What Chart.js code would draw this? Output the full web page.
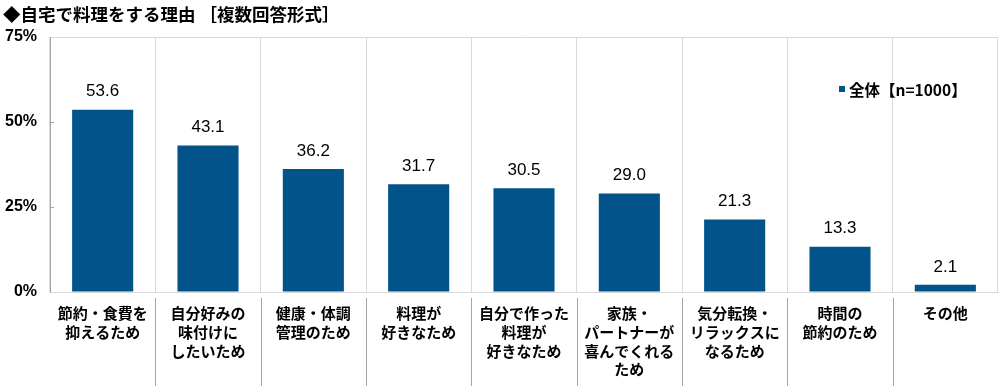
<!DOCTYPE html>
<html lang="ja">
<head>
<meta charset="utf-8">
<script src="https://cdn.jsdelivr.net/npm/chart.js@4"></script>
<style>
    html, body { margin: 0; padding: 0; background: #fff; }
    #wrap { position: relative; width: 1000px; height: 386px; }
    #title {
        position: absolute; left: 3px; top: 1px;
        font: bold 17.5px "Noto Sans CJK JP", sans-serif; color: #000;
        white-space: nowrap;
    }
    #legend {
        position: absolute; left: 839px; top: 78px;
        font: bold 15.5px "Noto Sans CJK JP", sans-serif; color: #000;
        white-space: nowrap;
    }
    #legend span.box {
        display: inline-block; width: 6px; height: 6px; background: #02538A;
        margin-right: 4px; vertical-align: 4px;
    }
</style>
</head>
<body>
<div id="wrap">
    <canvas id="reasonChart" width="1000" height="386"></canvas>
    <div id="title">◆自宅で料理をする理由 ［複数回答形式］</div>
    <div id="legend"><span class="box"></span>全体【n=1000】</div>
</div>
<script>
// Data
const categories = [
    ['節約・食費を', '抑えるため'],
    ['自分好みの', '味付けに', 'したいため'],
    ['健康・体調', '管理のため'],
    ['料理が', '好きなため'],
    ['自分で作った', '料理が', '好きなため'],
    ['家族・', 'パートナーが', '喜んでくれる', 'ため'],
    ['気分転換・', 'リラックスに', 'なるため'],
    ['時間の', '節約のため'],
    ['その他']
];
const totalValues = [53.6, 43.1, 36.2, 31.7, 30.5, 29.0, 21.3, 13.3, 2.1];
const yTicks = [0, 25, 50, 75];

const barBlue = '#02538A';
const lightGrid = '#d9d9d9';

// value labels above bars + separators under the axis + inner y ticks
const extras = {
    id: 'extras',
    afterDatasetsDraw(chart) {
        const ctx = chart.ctx;
        const xs = chart.scales.x;
        const ys = chart.scales.y;
        const area = chart.chartArea;
        ctx.save();

        // value labels
        const meta = chart.getDatasetMeta(0);
        ctx.fillStyle = '#000';
        ctx.font = '17px "Liberation Sans", Arial, sans-serif';
        ctx.textAlign = 'center';
        ctx.textBaseline = 'middle';
        meta.data.forEach(function(bar, i) {
            ctx.fillText(totalValues[i].toFixed(1), bar.x, bar.y - 18);
        });

        // category separators below the axis
        ctx.strokeStyle = '#a6a6a6';
        ctx.lineWidth = 1;
        for (let i = 1; i < categories.length; i++) {
            const x = Math.round((xs.getPixelForValue(i - 1) + xs.getPixelForValue(i)) / 2) + 0.5;
            ctx.beginPath();
            ctx.moveTo(x, area.bottom + 6);
            ctx.lineTo(x, chart.height);
            ctx.stroke();
        }

        // small ticks on the inside of the y axis
        yTicks.forEach(function(v) {
            if (v === 0 || v === 75) return;
            const y = Math.round(ys.getPixelForValue(v)) + 0.5;
            ctx.beginPath();
            ctx.moveTo(area.left, y);
            ctx.lineTo(area.left + 4, y);
            ctx.stroke();
        });
        ctx.restore();
    }
};

new Chart(document.getElementById('reasonChart'), {
    type: 'bar',
    data: {
        labels: categories,
        datasets: [{
            label: '全体【n=1000】',
            data: totalValues,
            backgroundColor: barBlue,
            borderWidth: 0,
            categoryPercentage: 1.0,
            barPercentage: 0.58
        }]
    },
    options: {
        responsive: false,
        animation: false,
        layout: {
            padding: { top: 37, right: 2, left: 0, bottom: 0 }
        },
        plugins: {
            legend: { display: false },
            tooltip: { enabled: false }
        },
        scales: {
            x: {
                offset: true,
                grid: {
                    offset: true,
                    color: lightGrid,
                    drawTicks: false
                },
                border: { color: lightGrid },
                ticks: {
                    color: '#000',
                    padding: 12,
                    maxRotation: 0,
                    autoSkip: false,
                    font: { family: '"Noto Sans CJK JP", sans-serif', size: 15, weight: 'bold', lineHeight: 1.25 }
                },
                afterFit: function(scale) { scale.height = 94; }
            },
            y: {
                min: 0,
                max: 75,
                afterBuildTicks: function(scale) {
                    scale.ticks = yTicks.map(function(v) { return { value: v }; });
                },
                grid: {
                    drawTicks: false,
                    color: function(c) { return c.tick && c.tick.value === 75 ? lightGrid : 'rgba(0,0,0,0)'; }
                },
                border: { color: '#a6a6a6' },
                ticks: {
                    color: '#000',
                    padding: 13,
                    font: { family: '"Liberation Sans", Arial, sans-serif', size: 16, weight: 'bold' },
                    callback: function(v) { return v + '%'; }
                },
                afterFit: function(scale) { scale.width = 50; }
            }
        }
    },
    plugins: [extras]
});
</script>
</body>
</html>
